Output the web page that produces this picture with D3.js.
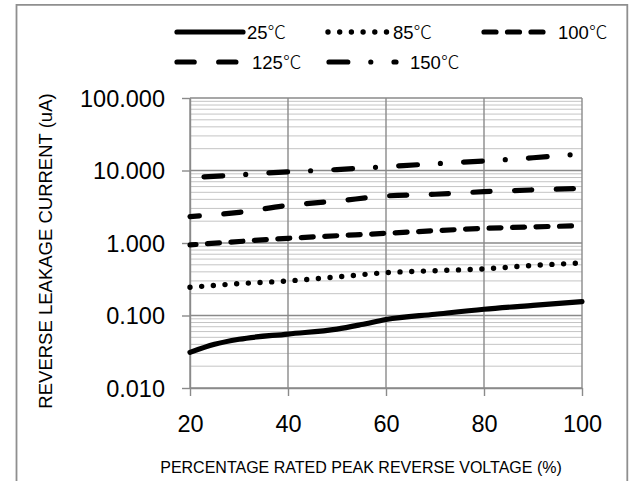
<!DOCTYPE html>
<html>
<head>
<meta charset="utf-8">
<script src="https://cdn.jsdelivr.net/npm/d3@7"></script>
<style>
  html, body { margin: 0; padding: 0; background: #fff; }
  svg { display: block; }
</style>
</head>
<body>
<svg id="chart" width="630" height="481"></svg>
<script>
// ---- data ----
const seriesNames = ["25℃", "85℃", "100℃", "125℃", "150℃"];
const x25 = [20, 25, 30, 40, 50, 55, 60, 70, 80, 90, 100];
const y25 = [0.031, 0.040, 0.047, 0.0555, 0.065, 0.075, 0.088, 0.104, 0.122, 0.138, 0.155];
const x85 = [20, 30, 40, 50, 60, 70, 80, 90, 100];
const y85 = [0.245, 0.275, 0.30, 0.34, 0.39, 0.415, 0.44, 0.49, 0.53];
const x100 = [20, 40, 60, 80, 100];
const y100 = [0.94, 1.16, 1.36, 1.59, 1.73];
const x125 = [20, 30, 40, 50, 60, 70, 80, 90, 100];
const y125 = [2.31, 2.65, 3.3, 3.8, 4.45, 4.7, 5.1, 5.4, 5.68];
const x150 = [20, 30, 40, 50, 60, 70, 80, 90, 100];
const y150 = [7.96, 8.7, 9.6, 10.3, 11.3, 12.4, 13.5, 15.0, 17.0];
const xTicks = [20, 40, 60, 80, 100];
const yTicks = [0.01, 0.1, 1, 10, 100];
const xTitle = "PERCENTAGE RATED PEAK REVERSE VOLTAGE (%)";
const yTitle = "REVERSE LEAKAGE CURRENT (uA)";

// ---- layout ----
const svg = d3.select("#chart");
const pLeft = 190, pRight = 582, pTop = 98, pBottom = 388;
const x = d3.scaleLinear().domain([20, 100]).range([pLeft, pRight]);
const y = d3.scaleLog().domain([0.01, 100]).range([pBottom, pTop]);
const FONT = "'Liberation Sans', Arial, 'Noto Sans CJK SC', sans-serif";
const CJK = "'Noto Sans CJK SC', 'Noto Sans CJK JP', sans-serif";

// chart frame (open at bottom)
svg.append("path")
  .attr("d", "M16.5,481 L16.5,4.8 L627.3,4.8 L627.3,481")
  .attr("fill", "none").attr("stroke", "#8f8f8f").attr("stroke-width", 1.8);

// minor gridlines
const minors = [];
[0.01, 0.1, 1, 10].forEach(d => { for (let k = 2; k <= 9; k++) minors.push(d * k); });
svg.append("g").selectAll("line").data(minors).join("line")
  .attr("x1", pLeft).attr("x2", pRight)
  .attr("y1", d => y(d)).attr("y2", d => y(d))
  .attr("stroke", "#c4c4c4").attr("stroke-width", 1);

// major gridlines
svg.append("g").selectAll("line").data(yTicks).join("line")
  .attr("x1", pLeft).attr("x2", pRight)
  .attr("y1", d => y(d)).attr("y2", d => y(d))
  .attr("stroke", "#8a8a8a").attr("stroke-width", 1.4);
svg.append("g").selectAll("line").data(xTicks).join("line")
  .attr("x1", d => x(d)).attr("x2", d => x(d))
  .attr("y1", pTop).attr("y2", pBottom)
  .attr("stroke", "#8a8a8a").attr("stroke-width", 1.4);

// axes
const yAxis = svg.append("g").attr("transform", `translate(${pLeft},0)`)
  .call(d3.axisLeft(y).tickValues(yTicks).tickFormat(d3.format(".3f")).tickSize(8).tickSizeOuter(0).tickPadding(17));
const xAxis = svg.append("g").attr("transform", `translate(0,${pBottom})`)
  .call(d3.axisBottom(x).tickValues(xTicks).tickFormat(d3.format("d")).tickSize(8).tickSizeOuter(0));
[yAxis, xAxis].forEach(a => {
  a.select(".domain").attr("stroke", "#8a8a8a").attr("stroke-width", 1.4);
  a.selectAll(".tick line").attr("stroke", "#8a8a8a").attr("stroke-width", 1.4);
  a.selectAll("text").attr("fill", "#000").style("font-family", FONT).style("font-size", "23.5px");
});
yAxis.selectAll("text").attr("dy", "0.36em");
xAxis.selectAll("text").attr("y", 44).attr("dy", 0);

// axis titles
svg.append("text").attr("x", 361).attr("y", 473).attr("text-anchor", "middle")
  .style("font-family", FONT).style("font-size", "16px").text(xTitle);
svg.append("text").attr("transform", "translate(52,251) rotate(-90)").attr("text-anchor", "middle")
  .style("font-family", FONT).style("font-size", "18.5px").text(yTitle);

// series
const styles = [
  { w: 5.2, dash: null,                 off: 0,  cap: "round" },
  { w: 5.4, dash: "0 11.7",             off: 0,  cap: "round" },
  { w: 5.2, dash: "12 11.5",            off: 6,  cap: "round" },
  { w: 5.2, dash: "17.2 24.5",          off: 7.8, cap: "round" },
  { w: 5.2, dash: "18.8 23 0 23.2",     off: 51, cap: "round" }
];
const xs = [x25, x85, x100, x125, x150];
const ys = [y25, y85, y100, y125, y150];
const line = d3.line().x(d => x(d[0])).y(d => y(d[1])).curve(d3.curveMonotoneX);
const plot = svg.append("g");
xs.forEach((xv, i) => {
  const pts = xv.map((v, j) => [v, ys[i][j]]);
  const s = styles[i];
  plot.append("path").datum(pts).attr("d", line)
    .attr("fill", "none").attr("stroke", "#000")
    .attr("stroke-width", s.w).attr("stroke-linecap", s.cap).attr("stroke-linejoin", "round")
    .attr("stroke-dasharray", s.dash).attr("stroke-dashoffset", s.off);
});

// legend
const legendLayout = [
  { x1: 177, x2: 243, tx: 247, y: 32 },
  { x1: 328, x2: 390, tx: 393, y: 32 },
  { x1: 484, x2: 545, tx: 558, y: 32 },
  { x1: 177, x2: 241, tx: 252, y: 62 },
  { x1: 329, x2: 396, tx: 410, y: 62 }
];
const lg = svg.append("g");
seriesNames.forEach((name, i) => {
  const L = legendLayout[i], s = styles[i];
  lg.append("line").attr("x1", L.x1).attr("x2", L.x2).attr("y1", L.y).attr("y2", L.y)
    .attr("stroke", "#000").attr("stroke-width", s.w).attr("stroke-linecap", s.cap)
    .attr("stroke-dasharray", s.dash);
  const t = lg.append("text").attr("x", L.tx).attr("y", L.y + 7)
    .style("font-family", FONT).style("font-size", "18.5px");
  const num = name.replace("℃", "");
  t.append("tspan").text(num);
  t.append("tspan").style("font-family", CJK).style("font-weight", 300).text(name.slice(num.length));
});
</script>
</body>
</html>
